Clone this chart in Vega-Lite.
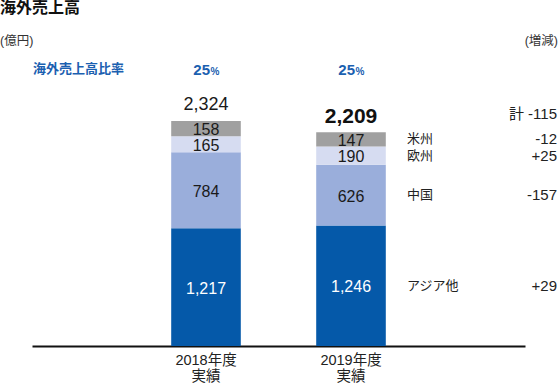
{
  "$schema": "https://vega.github.io/schema/vega-lite/v6.json",
  "width": 493,
  "height": 346,
  "autosize": {"type": "none"},
  "padding": {"left": 32, "top": 0, "right": 35, "bottom": 40},
  "background": "white",
  "config": {
    "view": {"stroke": null},
    "font": "'Liberation Sans', 'Noto Sans CJK JP', sans-serif"
  },
  "datasets": {
    "sales": [
      {"year": "2018年度実績", "region": "アジア他", "value": 1217, "order": 1, "change": ""},
      {"year": "2018年度実績", "region": "中国", "value": 784, "order": 2, "change": ""},
      {"year": "2018年度実績", "region": "欧州", "value": 165, "order": 3, "change": ""},
      {"year": "2018年度実績", "region": "米州", "value": 158, "order": 4, "change": ""},
      {"year": "2019年度実績", "region": "アジア他", "value": 1246, "order": 1, "change": "+29"},
      {"year": "2019年度実績", "region": "中国", "value": 626, "order": 2, "change": "-157"},
      {"year": "2019年度実績", "region": "欧州", "value": 190, "order": 3, "change": "+25"},
      {"year": "2019年度実績", "region": "米州", "value": 147, "order": 4, "change": "-12"}
    ],
    "totals": [
      {"year": "2018年度実績", "total": 2324, "ratio": "25", "change": ""},
      {"year": "2019年度実績", "total": 2209, "ratio": "25", "change": "計 -115"}
    ]
  },
  "layer": [
    {
      "data": {"name": "sales"},
      "mark": {"type": "bar"},
      "encoding": {
        "x": {
          "field": "year", "type": "nominal",
          "scale": {"paddingInner": 0.52, "paddingOuter": 0.96},
          "axis": {
            "title": null, "labelAngle": 0, "ticks": false,
            "domainColor": "#111", "domainWidth": 2,
            "labelFontSize": 14.5, "labelColor": "#222",
            "labelPadding": 7, "labelLineHeight": 16.5,
            "labelExpr": "[substring(datum.label,0,6), substring(datum.label,6)]"
          }
        },
        "y": {
          "field": "value", "type": "quantitative", "stack": "zero",
          "scale": {"domain": [0, 3575], "nice": false}, "axis": null
        },
        "order": {"field": "order", "type": "quantitative"},
        "color": {
          "field": "region", "type": "nominal", "legend": null,
          "scale": {
            "domain": ["アジア他", "中国", "欧州", "米州"],
            "range": ["#0559a9", "#9aaedb", "#d6dcf1", "#a0a0a0"]
          }
        }
      }
    },
    {
      "data": {"name": "sales"},
      "transform": [
        {"stack": "value", "groupby": ["year"], "sort": [{"field": "order"}], "as": ["y0", "y1"]},
        {"calculate": "(datum.y0 + datum.y1) / 2", "as": "mid"}
      ],
      "mark": {"type": "text", "fontSize": 16, "dy": 1.5, "baseline": "middle"},
      "encoding": {
        "x": {"field": "year", "type": "nominal"},
        "y": {"field": "mid", "type": "quantitative"},
        "text": {"field": "value", "type": "quantitative", "format": ","},
        "color": {"condition": {"test": "datum.region === 'アジア他'", "value": "white"}, "value": "#1a1a1a"}
      }
    },
    {
      "data": {"name": "sales"},
      "transform": [
        {"stack": "value", "groupby": ["year"], "sort": [{"field": "order"}], "as": ["y0", "y1"]},
        {"calculate": "(datum.y0 + datum.y1) / 2", "as": "mid"},
        {"filter": "datum.year === '2019年度実績'"}
      ],
      "layer": [
        {
          "mark": {"type": "text", "fontSize": 13, "align": "left", "dx": 56, "baseline": "middle", "color": "#222"},
          "encoding": {
            "x": {"field": "year", "type": "nominal"},
            "y": {"field": "mid", "type": "quantitative"},
            "text": {"field": "region"}
          }
        },
        {
          "mark": {"type": "text", "fontSize": 15, "align": "right", "dx": 206, "baseline": "middle", "color": "#222"},
          "encoding": {
            "x": {"field": "year", "type": "nominal"},
            "y": {"field": "mid", "type": "quantitative"},
            "text": {"field": "change"}
          }
        }
      ]
    },
    {
      "data": {"name": "totals"},
      "transform": [{"filter": "datum.year === '2018年度実績'"}],
      "mark": {"type": "text", "fontSize": 18, "baseline": "alphabetic", "dy": -11, "color": "#1a1a1a"},
      "encoding": {
        "x": {"field": "year", "type": "nominal"},
        "y": {"field": "total", "type": "quantitative"},
        "text": {"field": "total", "type": "quantitative", "format": ","}
      }
    },
    {
      "data": {"name": "totals"},
      "transform": [{"filter": "datum.year === '2019年度実績'"}],
      "layer": [
        {
          "mark": {"type": "text", "fontSize": 21, "fontWeight": "bold", "baseline": "alphabetic", "dy": -9, "color": "#111"},
          "encoding": {
            "x": {"field": "year", "type": "nominal"},
            "y": {"field": "total", "type": "quantitative"},
            "text": {"field": "total", "type": "quantitative", "format": ","}
          }
        },
        {
          "mark": {"type": "text", "fontSize": 15, "align": "right", "dx": 206, "baseline": "alphabetic", "dy": -13, "color": "#222"},
          "encoding": {
            "x": {"field": "year", "type": "nominal"},
            "y": {"field": "total", "type": "quantitative"},
            "text": {"field": "change"}
          }
        }
      ]
    },
    {
      "data": {"name": "totals"},
      "layer": [
        {
          "mark": {"type": "text", "fontSize": 15, "fontWeight": "bold", "align": "right", "dx": 4, "y": 75, "baseline": "alphabetic", "color": "#1b60b0"},
          "encoding": {
            "x": {"field": "year", "type": "nominal"},
            "text": {"field": "ratio"}
          }
        },
        {
          "mark": {"type": "text", "fontSize": 10, "fontWeight": "bold", "align": "left", "dx": 4.5, "y": 75, "baseline": "alphabetic", "color": "#1b60b0"},
          "encoding": {
            "x": {"field": "year", "type": "nominal"},
            "text": {"value": "%"}
          }
        }
      ]
    },
    {
      "data": {"values": [{"t": "海外売上高比率"}]},
      "mark": {"type": "text", "fontSize": 13, "fontWeight": "bold", "align": "left", "baseline": "middle", "x": 1, "y": 69, "color": "#1b60b0"},
      "encoding": {"text": {"field": "t"}}
    },
    {
      "data": {"values": [{"t": "海外売上高"}]},
      "mark": {"type": "text", "fontSize": 16, "fontWeight": "bold", "align": "left", "baseline": "middle", "x": -32, "y": 8, "color": "#111"},
      "encoding": {"text": {"field": "t"}}
    },
    {
      "data": {"values": [{"t": "(億円)"}]},
      "mark": {"type": "text", "fontSize": 12.5, "align": "left", "baseline": "middle", "x": -32, "y": 41, "color": "#333"},
      "encoding": {"text": {"field": "t"}}
    },
    {
      "data": {"values": [{"t": "(増減)"}]},
      "mark": {"type": "text", "fontSize": 12.5, "align": "right", "baseline": "middle", "x": 526, "y": 41, "color": "#333"},
      "encoding": {"text": {"field": "t"}}
    }
  ]
}
